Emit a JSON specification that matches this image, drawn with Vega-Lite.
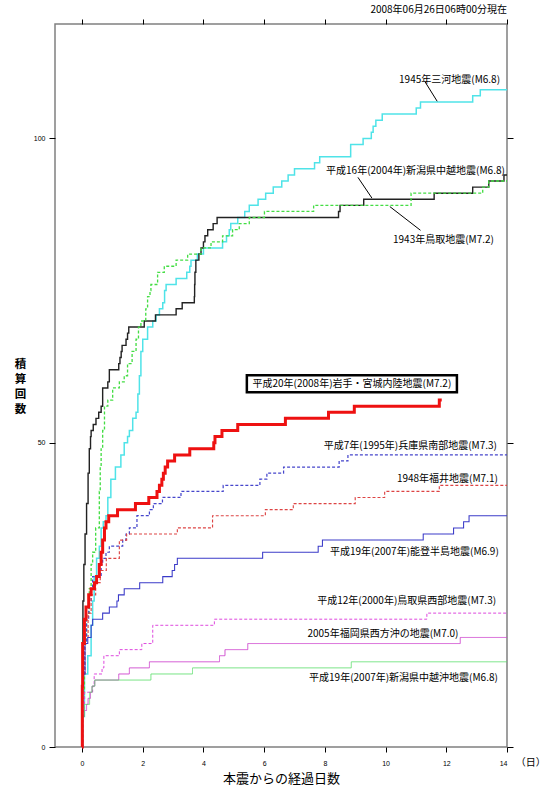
{
  "$schema": "https://vega.github.io/schema/vega-lite/v6.json",
  "width": 452,
  "height": 723,
  "autosize": "none",
  "padding": {"left": 55, "top": 24, "right": 44, "bottom": 42},
  "config": {
    "view": {"stroke": "#808080", "strokeWidth": 1.5},
    "axis": {
      "grid": false,
      "domain": false,
      "tickColor": "#000",
      "tickWidth": 1,
      "labelFont": "Liberation Sans",
      "labelFontSize": 7,
      "labelColor": "#000",
      "titleFont": "Noto Sans CJK JP",
      "titleColor": "#000"
    },
    "text": {"font": "Noto Sans CJK JP", "fontSize": 10, "color": "#000"}
  },
  "datasets": {
    "quakes": [
      {"series": "mikawa1945", "day": 0, "count": 0},
      {"series": "mikawa1945", "day": 0.02, "count": 5},
      {"series": "mikawa1945", "day": 0.08, "count": 12},
      {"series": "mikawa1945", "day": 0.19, "count": 15},
      {"series": "mikawa1945", "day": 0.3, "count": 20},
      {"series": "mikawa1945", "day": 0.35, "count": 24},
      {"series": "mikawa1945", "day": 0.4, "count": 28},
      {"series": "mikawa1945", "day": 0.48, "count": 31},
      {"series": "mikawa1945", "day": 0.57, "count": 33},
      {"series": "mikawa1945", "day": 0.63, "count": 36},
      {"series": "mikawa1945", "day": 0.7, "count": 37},
      {"series": "mikawa1945", "day": 0.79, "count": 38},
      {"series": "mikawa1945", "day": 0.85, "count": 41},
      {"series": "mikawa1945", "day": 0.95, "count": 44},
      {"series": "mikawa1945", "day": 1.1, "count": 46},
      {"series": "mikawa1945", "day": 1.28, "count": 48},
      {"series": "mikawa1945", "day": 1.39, "count": 50},
      {"series": "mikawa1945", "day": 1.5, "count": 51},
      {"series": "mikawa1945", "day": 1.56, "count": 52},
      {"series": "mikawa1945", "day": 1.67, "count": 54},
      {"series": "mikawa1945", "day": 1.78, "count": 55},
      {"series": "mikawa1945", "day": 1.84, "count": 58},
      {"series": "mikawa1945", "day": 1.89, "count": 61},
      {"series": "mikawa1945", "day": 1.94, "count": 65},
      {"series": "mikawa1945", "day": 2.0, "count": 67},
      {"series": "mikawa1945", "day": 2.16, "count": 69},
      {"series": "mikawa1945", "day": 2.33, "count": 70},
      {"series": "mikawa1945", "day": 2.44, "count": 71},
      {"series": "mikawa1945", "day": 2.55, "count": 72},
      {"series": "mikawa1945", "day": 2.66, "count": 73},
      {"series": "mikawa1945", "day": 2.72, "count": 75},
      {"series": "mikawa1945", "day": 2.77, "count": 76},
      {"series": "mikawa1945", "day": 3.1, "count": 77},
      {"series": "mikawa1945", "day": 3.45, "count": 78},
      {"series": "mikawa1945", "day": 3.55, "count": 79},
      {"series": "mikawa1945", "day": 3.59, "count": 80},
      {"series": "mikawa1945", "day": 3.8, "count": 81},
      {"series": "mikawa1945", "day": 4.0, "count": 82},
      {"series": "mikawa1945", "day": 4.63, "count": 83},
      {"series": "mikawa1945", "day": 4.76, "count": 84},
      {"series": "mikawa1945", "day": 4.85, "count": 85},
      {"series": "mikawa1945", "day": 4.9, "count": 86},
      {"series": "mikawa1945", "day": 5.13, "count": 87},
      {"series": "mikawa1945", "day": 5.36, "count": 88},
      {"series": "mikawa1945", "day": 5.51, "count": 89},
      {"series": "mikawa1945", "day": 5.8, "count": 90},
      {"series": "mikawa1945", "day": 6.05, "count": 91},
      {"series": "mikawa1945", "day": 6.3, "count": 92},
      {"series": "mikawa1945", "day": 6.58, "count": 93},
      {"series": "mikawa1945", "day": 6.79, "count": 94},
      {"series": "mikawa1945", "day": 7.0, "count": 95},
      {"series": "mikawa1945", "day": 7.66, "count": 96},
      {"series": "mikawa1945", "day": 7.83, "count": 97},
      {"series": "mikawa1945", "day": 8.85, "count": 99},
      {"series": "mikawa1945", "day": 9.26, "count": 100},
      {"series": "mikawa1945", "day": 9.53, "count": 101},
      {"series": "mikawa1945", "day": 9.59, "count": 102},
      {"series": "mikawa1945", "day": 9.68, "count": 103},
      {"series": "mikawa1945", "day": 9.89, "count": 104},
      {"series": "mikawa1945", "day": 11.01, "count": 105},
      {"series": "mikawa1945", "day": 11.15, "count": 106},
      {"series": "mikawa1945", "day": 12.87, "count": 107},
      {"series": "mikawa1945", "day": 13.12, "count": 108},
      {"series": "mikawa1945", "day": 14, "count": 108},

      {"series": "chuetsu2004", "day": 0, "count": 0},
      {"series": "chuetsu2004", "day": 0.01, "count": 10},
      {"series": "chuetsu2004", "day": 0.03, "count": 24},
      {"series": "chuetsu2004", "day": 0.06, "count": 30},
      {"series": "chuetsu2004", "day": 0.1, "count": 35},
      {"series": "chuetsu2004", "day": 0.15, "count": 40},
      {"series": "chuetsu2004", "day": 0.2, "count": 45},
      {"series": "chuetsu2004", "day": 0.24, "count": 49},
      {"series": "chuetsu2004", "day": 0.28, "count": 51},
      {"series": "chuetsu2004", "day": 0.3, "count": 52},
      {"series": "chuetsu2004", "day": 0.37, "count": 53},
      {"series": "chuetsu2004", "day": 0.46, "count": 54},
      {"series": "chuetsu2004", "day": 0.55, "count": 55},
      {"series": "chuetsu2004", "day": 0.63, "count": 56},
      {"series": "chuetsu2004", "day": 0.68, "count": 59},
      {"series": "chuetsu2004", "day": 0.85, "count": 60},
      {"series": "chuetsu2004", "day": 0.9, "count": 62},
      {"series": "chuetsu2004", "day": 1.21, "count": 63},
      {"series": "chuetsu2004", "day": 1.25, "count": 64},
      {"series": "chuetsu2004", "day": 1.29, "count": 65},
      {"series": "chuetsu2004", "day": 1.32, "count": 66},
      {"series": "chuetsu2004", "day": 1.45, "count": 67},
      {"series": "chuetsu2004", "day": 1.5, "count": 68},
      {"series": "chuetsu2004", "day": 1.54, "count": 69},
      {"series": "chuetsu2004", "day": 2.05, "count": 70},
      {"series": "chuetsu2004", "day": 2.42, "count": 71},
      {"series": "chuetsu2004", "day": 3.1, "count": 72},
      {"series": "chuetsu2004", "day": 3.3, "count": 73},
      {"series": "chuetsu2004", "day": 3.7, "count": 74},
      {"series": "chuetsu2004", "day": 3.71, "count": 76},
      {"series": "chuetsu2004", "day": 3.72, "count": 78},
      {"series": "chuetsu2004", "day": 3.75, "count": 80},
      {"series": "chuetsu2004", "day": 3.85, "count": 81},
      {"series": "chuetsu2004", "day": 3.92, "count": 82},
      {"series": "chuetsu2004", "day": 4.0, "count": 83},
      {"series": "chuetsu2004", "day": 4.05, "count": 84},
      {"series": "chuetsu2004", "day": 4.14, "count": 85},
      {"series": "chuetsu2004", "day": 4.32, "count": 86},
      {"series": "chuetsu2004", "day": 4.45, "count": 87},
      {"series": "chuetsu2004", "day": 8.45, "count": 88},
      {"series": "chuetsu2004", "day": 8.5, "count": 89},
      {"series": "chuetsu2004", "day": 9.28, "count": 90},
      {"series": "chuetsu2004", "day": 11.6, "count": 91},
      {"series": "chuetsu2004", "day": 12.87, "count": 92},
      {"series": "chuetsu2004", "day": 13.4, "count": 93},
      {"series": "chuetsu2004", "day": 13.9, "count": 94},
      {"series": "chuetsu2004", "day": 14, "count": 94},

      {"series": "tottori1943", "day": 0, "count": 0},
      {"series": "tottori1943", "day": 0.02, "count": 8},
      {"series": "tottori1943", "day": 0.08, "count": 17},
      {"series": "tottori1943", "day": 0.15, "count": 22},
      {"series": "tottori1943", "day": 0.24, "count": 26},
      {"series": "tottori1943", "day": 0.3, "count": 30},
      {"series": "tottori1943", "day": 0.35, "count": 32},
      {"series": "tottori1943", "day": 0.45, "count": 36},
      {"series": "tottori1943", "day": 0.57, "count": 42},
      {"series": "tottori1943", "day": 0.6, "count": 46},
      {"series": "tottori1943", "day": 0.63, "count": 49},
      {"series": "tottori1943", "day": 0.68, "count": 52},
      {"series": "tottori1943", "day": 0.74, "count": 56},
      {"series": "tottori1943", "day": 0.85, "count": 57},
      {"series": "tottori1943", "day": 1.01, "count": 59},
      {"series": "tottori1943", "day": 1.23, "count": 60},
      {"series": "tottori1943", "day": 1.39, "count": 61},
      {"series": "tottori1943", "day": 1.5, "count": 63},
      {"series": "tottori1943", "day": 1.65, "count": 65},
      {"series": "tottori1943", "day": 1.78, "count": 67},
      {"series": "tottori1943", "day": 1.86, "count": 69},
      {"series": "tottori1943", "day": 1.94, "count": 70},
      {"series": "tottori1943", "day": 2.1, "count": 72},
      {"series": "tottori1943", "day": 2.16, "count": 74},
      {"series": "tottori1943", "day": 2.24, "count": 75},
      {"series": "tottori1943", "day": 2.27, "count": 76},
      {"series": "tottori1943", "day": 2.49, "count": 78},
      {"series": "tottori1943", "day": 2.71, "count": 79},
      {"series": "tottori1943", "day": 3.1, "count": 80},
      {"series": "tottori1943", "day": 3.48, "count": 81},
      {"series": "tottori1943", "day": 3.92, "count": 82},
      {"series": "tottori1943", "day": 4.25, "count": 83},
      {"series": "tottori1943", "day": 4.63, "count": 84},
      {"series": "tottori1943", "day": 4.96, "count": 85},
      {"series": "tottori1943", "day": 5.18, "count": 86},
      {"series": "tottori1943", "day": 5.51, "count": 87},
      {"series": "tottori1943", "day": 6.01, "count": 88},
      {"series": "tottori1943", "day": 7.63, "count": 89},
      {"series": "tottori1943", "day": 10.84, "count": 91},
      {"series": "tottori1943", "day": 13.2, "count": 92},
      {"series": "tottori1943", "day": 13.4, "count": 93},
      {"series": "tottori1943", "day": 14, "count": 93},

      {"series": "iwate2008", "day": 0, "count": 0},
      {"series": "iwate2008", "day": 0.01, "count": 10},
      {"series": "iwate2008", "day": 0.02, "count": 17},
      {"series": "iwate2008", "day": 0.08, "count": 21},
      {"series": "iwate2008", "day": 0.13, "count": 23},
      {"series": "iwate2008", "day": 0.22, "count": 25},
      {"series": "iwate2008", "day": 0.3, "count": 26},
      {"series": "iwate2008", "day": 0.41, "count": 27},
      {"series": "iwate2008", "day": 0.48, "count": 28},
      {"series": "iwate2008", "day": 0.57, "count": 30},
      {"series": "iwate2008", "day": 0.63, "count": 32},
      {"series": "iwate2008", "day": 0.68, "count": 34},
      {"series": "iwate2008", "day": 0.74, "count": 36},
      {"series": "iwate2008", "day": 0.79, "count": 37},
      {"series": "iwate2008", "day": 0.88, "count": 38},
      {"series": "iwate2008", "day": 1.17, "count": 39},
      {"series": "iwate2008", "day": 1.76, "count": 40},
      {"series": "iwate2008", "day": 2.2, "count": 41},
      {"series": "iwate2008", "day": 2.47, "count": 42},
      {"series": "iwate2008", "day": 2.55, "count": 43},
      {"series": "iwate2008", "day": 2.63, "count": 44},
      {"series": "iwate2008", "day": 2.68, "count": 45},
      {"series": "iwate2008", "day": 2.74, "count": 46},
      {"series": "iwate2008", "day": 2.82, "count": 47},
      {"series": "iwate2008", "day": 3.05, "count": 48},
      {"series": "iwate2008", "day": 3.55, "count": 49},
      {"series": "iwate2008", "day": 4.34, "count": 50},
      {"series": "iwate2008", "day": 4.38, "count": 51},
      {"series": "iwate2008", "day": 4.61, "count": 52},
      {"series": "iwate2008", "day": 5.13, "count": 53},
      {"series": "iwate2008", "day": 6.7, "count": 54},
      {"series": "iwate2008", "day": 8.12, "count": 55},
      {"series": "iwate2008", "day": 8.97, "count": 56},
      {"series": "iwate2008", "day": 11.77, "count": 57},
      {"series": "iwate2008", "day": 11.85, "count": 57},

      {"series": "hyogo1995", "day": 0, "count": 0},
      {"series": "hyogo1995", "day": 0.02, "count": 12},
      {"series": "hyogo1995", "day": 0.08, "count": 17},
      {"series": "hyogo1995", "day": 0.15, "count": 21},
      {"series": "hyogo1995", "day": 0.22, "count": 24},
      {"series": "hyogo1995", "day": 0.3, "count": 26},
      {"series": "hyogo1995", "day": 0.35, "count": 28},
      {"series": "hyogo1995", "day": 0.63, "count": 30},
      {"series": "hyogo1995", "day": 0.68, "count": 31},
      {"series": "hyogo1995", "day": 0.79, "count": 32},
      {"series": "hyogo1995", "day": 0.9, "count": 33},
      {"series": "hyogo1995", "day": 1.34, "count": 34},
      {"series": "hyogo1995", "day": 1.45, "count": 35},
      {"series": "hyogo1995", "day": 1.56, "count": 36},
      {"series": "hyogo1995", "day": 1.81, "count": 38},
      {"series": "hyogo1995", "day": 2.22, "count": 39},
      {"series": "hyogo1995", "day": 2.35, "count": 40},
      {"series": "hyogo1995", "day": 2.65, "count": 41},
      {"series": "hyogo1995", "day": 3.26, "count": 42},
      {"series": "hyogo1995", "day": 4.65, "count": 43},
      {"series": "hyogo1995", "day": 5.86, "count": 44},
      {"series": "hyogo1995", "day": 6.09, "count": 45},
      {"series": "hyogo1995", "day": 6.64, "count": 46},
      {"series": "hyogo1995", "day": 8.47, "count": 47},
      {"series": "hyogo1995", "day": 8.76, "count": 48},
      {"series": "hyogo1995", "day": 14, "count": 48},

      {"series": "fukui1948", "day": 0, "count": 0},
      {"series": "fukui1948", "day": 0.02, "count": 12},
      {"series": "fukui1948", "day": 0.1, "count": 18},
      {"series": "fukui1948", "day": 0.2, "count": 22},
      {"series": "fukui1948", "day": 0.3, "count": 25},
      {"series": "fukui1948", "day": 0.45, "count": 27},
      {"series": "fukui1948", "day": 0.6, "count": 29},
      {"series": "fukui1948", "day": 0.8, "count": 31},
      {"series": "fukui1948", "day": 1.23, "count": 34},
      {"series": "fukui1948", "day": 1.47, "count": 35},
      {"series": "fukui1948", "day": 3.14, "count": 36},
      {"series": "fukui1948", "day": 4.3, "count": 38},
      {"series": "fukui1948", "day": 6.04, "count": 39},
      {"series": "fukui1948", "day": 6.96, "count": 40},
      {"series": "fukui1948", "day": 9.0, "count": 41},
      {"series": "fukui1948", "day": 9.97, "count": 42},
      {"series": "fukui1948", "day": 11.77, "count": 43},
      {"series": "fukui1948", "day": 14, "count": 43},

      {"series": "noto2007", "day": 0, "count": 0},
      {"series": "noto2007", "day": 0.02, "count": 12},
      {"series": "noto2007", "day": 0.1, "count": 17},
      {"series": "noto2007", "day": 0.19, "count": 18},
      {"series": "noto2007", "day": 0.3, "count": 20},
      {"series": "noto2007", "day": 0.35, "count": 21},
      {"series": "noto2007", "day": 0.68, "count": 22},
      {"series": "noto2007", "day": 0.9, "count": 23},
      {"series": "noto2007", "day": 1.15, "count": 24},
      {"series": "noto2007", "day": 1.2, "count": 25},
      {"series": "noto2007", "day": 1.39, "count": 26},
      {"series": "noto2007", "day": 1.9, "count": 27},
      {"series": "noto2007", "day": 2.66, "count": 28},
      {"series": "noto2007", "day": 2.97, "count": 29},
      {"series": "noto2007", "day": 3.05, "count": 30},
      {"series": "noto2007", "day": 3.14, "count": 31},
      {"series": "noto2007", "day": 5.95, "count": 32},
      {"series": "noto2007", "day": 7.78, "count": 33},
      {"series": "noto2007", "day": 7.92, "count": 34},
      {"series": "noto2007", "day": 11.24, "count": 35},
      {"series": "noto2007", "day": 12.24, "count": 36},
      {"series": "noto2007", "day": 12.57, "count": 37},
      {"series": "noto2007", "day": 12.75, "count": 38},
      {"series": "noto2007", "day": 14, "count": 38},

      {"series": "tottoriW2000", "day": 0, "count": 0},
      {"series": "tottoriW2000", "day": 0.02, "count": 6},
      {"series": "tottoriW2000", "day": 0.08, "count": 9},
      {"series": "tottoriW2000", "day": 0.35, "count": 10},
      {"series": "tottoriW2000", "day": 0.4, "count": 12},
      {"series": "tottoriW2000", "day": 0.66, "count": 13},
      {"series": "tottoriW2000", "day": 0.72, "count": 15},
      {"series": "tottoriW2000", "day": 1.23, "count": 16},
      {"series": "tottoriW2000", "day": 1.97, "count": 17},
      {"series": "tottoriW2000", "day": 2.33, "count": 20},
      {"series": "tottoriW2000", "day": 4.36, "count": 21},
      {"series": "tottoriW2000", "day": 11.36, "count": 22},
      {"series": "tottoriW2000", "day": 14, "count": 22},

      {"series": "fukuoka2005", "day": 0, "count": 0},
      {"series": "fukuoka2005", "day": 0.02, "count": 5},
      {"series": "fukuoka2005", "day": 0.08, "count": 6},
      {"series": "fukuoka2005", "day": 0.15, "count": 7},
      {"series": "fukuoka2005", "day": 0.2, "count": 8},
      {"series": "fukuoka2005", "day": 0.28, "count": 9},
      {"series": "fukuoka2005", "day": 0.33, "count": 10},
      {"series": "fukuoka2005", "day": 0.42, "count": 11},
      {"series": "fukuoka2005", "day": 1.21, "count": 12},
      {"series": "fukuoka2005", "day": 1.56, "count": 13},
      {"series": "fukuoka2005", "day": 2.22, "count": 14},
      {"series": "fukuoka2005", "day": 4.53, "count": 15},
      {"series": "fukuoka2005", "day": 4.71, "count": 16},
      {"series": "fukuoka2005", "day": 5.46, "count": 17},
      {"series": "fukuoka2005", "day": 12.46, "count": 18},
      {"series": "fukuoka2005", "day": 14, "count": 18},

      {"series": "chuetsuoki2007", "day": 0, "count": 0},
      {"series": "chuetsuoki2007", "day": 0.02, "count": 5},
      {"series": "chuetsuoki2007", "day": 0.08, "count": 7},
      {"series": "chuetsuoki2007", "day": 0.25, "count": 9},
      {"series": "chuetsuoki2007", "day": 0.33, "count": 10},
      {"series": "chuetsuoki2007", "day": 0.42, "count": 11},
      {"series": "chuetsuoki2007", "day": 2.27, "count": 12},
      {"series": "chuetsuoki2007", "day": 3.64, "count": 13},
      {"series": "chuetsuoki2007", "day": 8.87, "count": 14},
      {"series": "chuetsuoki2007", "day": 14, "count": 14}
    ],
    "labels": [
      {"label": "1945年三河地震(M6.8)", "day": 13.77, "count": 109.6},
      {"label": "平成16年(2004年)新潟県中越地震(M6.8)", "day": 13.93, "count": 94.6},
      {"label": "1943年鳥取地震(M7.2)", "day": 13.57, "count": 83.3},
      {"label": "平成7年(1995年)兵庫県南部地震(M7.3)", "day": 13.67, "count": 49.4},
      {"label": "1948年福井地震(M7.1)", "day": 13.7, "count": 44.0},
      {"label": "平成19年(2007年)能登半島地震(M6.9)", "day": 13.73, "count": 32.0},
      {"label": "平成12年(2000年)鳥取県西部地震(M7.3)", "day": 13.64, "count": 24.0},
      {"label": "2005年福岡県西方沖の地震(M7.0)", "day": 12.4, "count": 18.5},
      {"label": "平成19年(2007年)新潟県中越沖地震(M6.8)", "day": 13.7, "count": 11.4},
      {"label": "2008年06月26日06時00分現在", "day": 14, "count": 121.1}
    ],
    "leaders": [
      {"day": 11.3, "count": 109.3, "day2": 11.7, "count2": 106.1},
      {"day": 9.09, "count": 93.6, "day2": 9.55, "count2": 90.2},
      {"day": 11.15, "count": 84.9, "day2": 10.14, "count2": 88.8}
    ],
    "box": [
      {"label": "平成20年(2008年)岩手・宮城内陸地震(M7.2)", "day": 5.43, "day2": 12.35, "count": 58.3, "count2": 61.1, "mid": 8.89, "midCount": 59.7}
    ],
    "unit": [
      {"label": "（日）", "day": 14.78, "count": -2.6}
    ]
  },
  "resolve": {"scale": {"x": "shared", "y": "shared"}, "axis": {"x": "independent", "y": "independent"}},
  "layer": [
    {
      "data": {"name": "quakes"},
      "transform": [{"filter": "datum.series != 'iwate2008'"}],
      "mark": {"type": "line", "interpolate": "step-after"},
      "encoding": {
        "x": {
          "field": "day", "type": "quantitative",
          "scale": {"domain": [-0.89, 14], "nice": false, "zero": false},
          "axis": {"orient": "bottom", "values": [0, 2, 4, 6, 8, 10, 12, 14], "tickSize": 5, "labelPadding": 7, "title": "本震からの経過日数", "titleFontSize": 13, "titleFontWeight": "normal", "titleBaseline": "top", "titleY": 25}
        },
        "y": {
          "field": "count", "type": "quantitative",
          "scale": {"domain": [0, 118.8], "nice": false},
          "axis": {"orient": "left", "values": [0, 50, 100], "tickSize": 6, "labelPadding": 4, "title": ["積", "算", "回", "数"], "titleAngle": 0, "titleAlign": "center", "titleBaseline": "top", "titleX": -35, "titleY": 334, "titleFontSize": 11.5, "titleFontWeight": "bold", "titleLineHeight": 15}
        },
        "detail": {"field": "series"},
        "color": {
          "field": "series", "type": "nominal", "legend": null,
          "scale": {
            "domain": ["mikawa1945", "chuetsu2004", "tottori1943", "hyogo1995", "fukui1948", "noto2007", "tottoriW2000", "fukuoka2005", "chuetsuoki2007"],
            "range": ["#4fe3e8", "#222222", "#44dd44", "#4646cc", "#dd4444", "#3a3ac8", "#dd44dd", "#cc3fcc", "#55dd66"]
          }
        },
        "strokeDash": {
          "field": "series", "type": "nominal", "legend": null,
          "scale": {
            "domain": ["mikawa1945", "chuetsu2004", "tottori1943", "hyogo1995", "fukui1948", "noto2007", "tottoriW2000", "fukuoka2005", "chuetsuoki2007"],
            "range": [[1, 0], [1, 0], [3, 2], [3, 2], [3, 2], [1, 0], [3, 2], [1, 0], [1, 0]]
          }
        },
        "strokeWidth": {
          "field": "series", "type": "nominal", "legend": null,
          "scale": {
            "domain": ["mikawa1945", "chuetsu2004", "tottori1943", "hyogo1995", "fukui1948", "noto2007", "tottoriW2000", "fukuoka2005", "chuetsuoki2007"],
            "range": [1.5, 0.8, 1, 1, 1, 1, 1, 1.2, 1.2]
          }
        }
      }
    },
    {
      "data": {"name": "quakes"},
      "transform": [{"filter": "datum.series == 'iwate2008'"}],
      "mark": {"type": "line", "interpolate": "step-after", "color": "#ee1111", "strokeWidth": 3},
      "encoding": {
        "x": {"field": "day", "type": "quantitative", "axis": {"orient": "top", "values": [0, 2, 4, 6, 8, 10, 12, 14], "tickSize": 5, "labels": false, "title": null}},
        "y": {"field": "count", "type": "quantitative", "axis": {"orient": "right", "values": [0, 50, 100], "tickSize": 6, "labels": false, "title": null}}
      }
    },
    {
      "data": {"name": "leaders"},
      "mark": {"type": "rule", "color": "#000", "strokeWidth": 1},
      "encoding": {
        "x": {"field": "day", "type": "quantitative", "axis": null},
        "y": {"field": "count", "type": "quantitative", "axis": null},
        "x2": {"field": "day2"},
        "y2": {"field": "count2"}
      }
    },
    {
      "data": {"name": "labels"},
      "mark": {"type": "text", "align": "right", "baseline": "middle"},
      "encoding": {
        "x": {"field": "day", "type": "quantitative", "axis": null},
        "y": {"field": "count", "type": "quantitative", "axis": null},
        "text": {"field": "label"}
      }
    },
    {
      "data": {"name": "box"},
      "mark": {"type": "rect", "fill": "#fff", "stroke": "#000", "strokeWidth": 2.5},
      "encoding": {
        "x": {"field": "day", "type": "quantitative", "axis": null},
        "x2": {"field": "day2"},
        "y": {"field": "count", "type": "quantitative", "axis": null},
        "y2": {"field": "count2"}
      }
    },
    {
      "data": {"name": "box"},
      "mark": {"type": "text", "align": "center", "baseline": "middle"},
      "encoding": {
        "x": {"field": "mid", "type": "quantitative", "axis": null},
        "y": {"field": "midCount", "type": "quantitative", "axis": null},
        "text": {"field": "label"}
      }
    },
    {
      "data": {"name": "unit"},
      "mark": {"type": "text", "align": "center", "baseline": "middle", "fontSize": 10},
      "encoding": {
        "x": {"field": "day", "type": "quantitative", "axis": null},
        "y": {"field": "count", "type": "quantitative", "axis": null},
        "text": {"field": "label"}
      }
    }
  ]
}
